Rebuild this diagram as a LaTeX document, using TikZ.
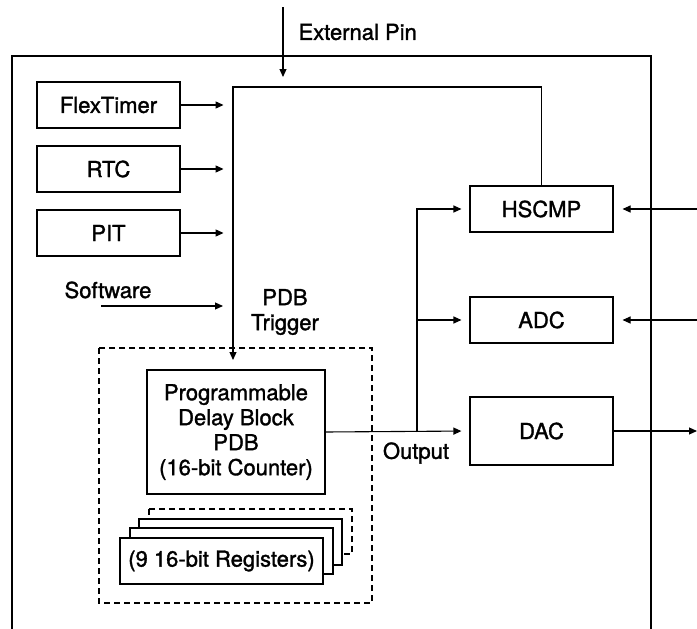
\documentclass[tikz,border=0pt]{standalone}
\usepackage{fontspec}
\setmainfont{TeX Gyre Heros}[FakeBold=1.4]
\usepackage{tikz}
\usetikzlibrary{arrows.meta,positioning}

\tikzset{
  blk/.style={draw, line width=1.1pt, minimum width=143pt, minimum height=46pt, inner sep=0pt, align=center},
  bigblk/.style={blk, minimum width=178pt, minimum height=124pt},
  regblk/.style={draw, line width=1.1pt, fill=white, minimum width=203pt, minimum height=46pt, inner sep=0pt},
  lbl/.style={inner sep=0pt, align=center},
  dash box/.style={dash pattern=on 6pt off 4pt}
}

\begin{document}
\begin{tikzpicture}[x=1pt, y=-1pt, line width=1.1pt,
  >={Triangle[length=8pt,width=7pt]},
  font=\fontsize{22}{25}\selectfont]
  \useasboundingbox (0,0) rectangle (697,629);
  \draw (12,629) |- (651,56) -- (651,629);

  \node[blk] (flex) at (108.5,105) {FlexTimer};
  \node[blk] (rtc)  at (108.5,169) {RTC};
  \node[blk] (pit)  at (108.5,233) {PIT};
  \node[lbl] (soft) at (108,290) {Software};
  \node[lbl, anchor=west] (ext) at (298,32) {External Pin};
  \node[lbl] (trg) at (285,312) {PDB\\Trigger};

  \node[blk] (hscmp) at (541.5,209) {HSCMP};
  \node[blk] (adc)   at (541.5,320) {ADC};
  \node[blk, minimum height=68pt] (dac) at (541.5,431) {DAC};

  \draw[dash box] (99,348) rectangle (372,603);
  \node[bigblk] (pdb) at (236,432) {Programmable\\Delay Block\\PDB\\(16-bit Counter)};
  \draw[dash box, fill=white] (149,509) rectangle (352,554);
  \node[regblk] (reg3) at (240.5,542) {};
  \node[regblk] (reg2) at (231.5,551) {};
  \node[regblk] (reg1) at (221.5,561) {(9 16-bit Registers)};

  \coordinate (pin) at (283,7);
  \coordinate (pinend) at (283,77);
  \coordinate (trig) at (233,87);
  \coordinate (trigend) at (233,360);
  \coordinate (bus) at (417,432);
  \coordinate (softin) at (101,306);
  \coordinate (cmpin) at (697,209);
  \coordinate (adcin) at (697,320);
  \coordinate (dacout) at (697,431);

  \draw[->] (pin) -- (pinend);
  \draw[->] (hscmp.north) |- (trig) -- (trigend);
  \draw[->] (flex.east) -- ++(43,0);
  \draw[->] (rtc.east) -- ++(43,0);
  \draw[->] (pit.east) -- ++(43,0);
  \draw[->] (softin) -- ++(122,0);

  \draw[->, shorten >=8pt] (pdb.east) -- (dac.west);
  \draw[->, shorten >=8pt] (bus) |- (hscmp.west);
  \draw[->, shorten >=8pt] (bus) |- (adc.west);
  \node[lbl] (out) at (416,453) {Output};

  \draw[->, shorten >=9pt] (cmpin) -- (hscmp.east);
  \draw[->, shorten >=9pt] (adcin) -- (adc.east);
  \draw[->] (dac.east) -- (dacout);
\end{tikzpicture}
\end{document}
